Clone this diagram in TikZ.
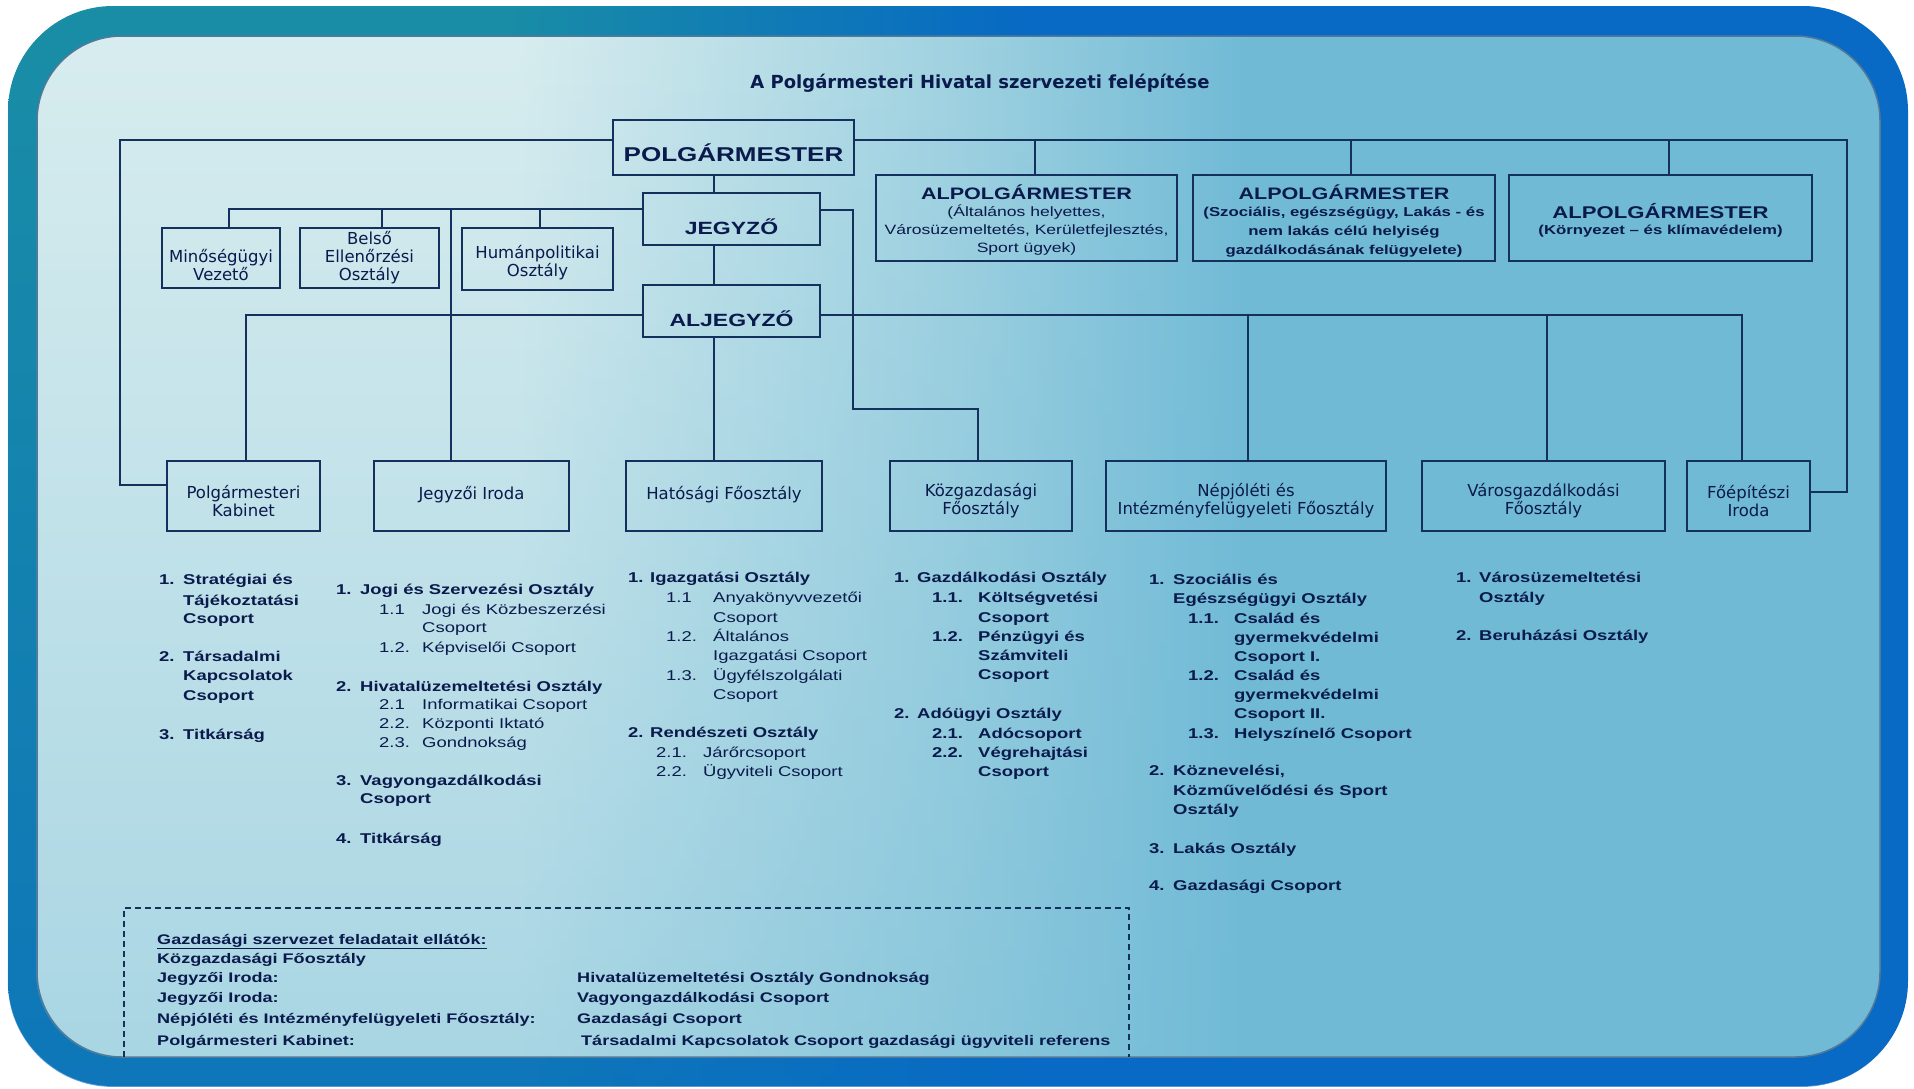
\documentclass[tikz,border=0pt]{standalone}
\usepackage{fontspec}
\setmainfont{Liberation Sans}
\newfontfamily\ar[FakeStretch=1.3]{Liberation Sans}
\newfontfamily\dv{DejaVu Sans}
\usetikzlibrary{fadings}
\definecolor{navy}{RGB}{20,48,92}
\definecolor{ink}{RGB}{10,26,76}
\definecolor{bgpale}{RGB}{216,237,239}
\definecolor{bgmid}{RGB}{160,210,225}
\definecolor{bgsky}{RGB}{112,186,214}
\definecolor{frteal}{RGB}{26,142,166}
\definecolor{frblue}{RGB}{8,106,196}
\pgfdeclarehorizontalshading{bgsh}{100bp}{color(0bp)=(bgpale); color(25bp)=(bgpale); color(38bp)=(bgpale); color(50bp)=(bgmid); color(58bp)=(bgsky); color(100bp)=(bgsky)}
\pgfdeclarehorizontalshading{frsh}{100bp}{color(0bp)=(frteal); color(25bp)=(frteal); color(38bp)=(frteal); color(52bp)=(frblue); color(100bp)=(frblue)}
\tikzset{
 conn/.style={draw=navy, line width=2.4pt},
 box/.style={draw=navy, line width=2.6pt, inner sep=0pt, align=center, text=ink},
 sbox/.style={draw=navy, line width=2.6pt, inner sep=0pt},
 btxt/.style={inner sep=0pt, align=center, text=ink, font=\dv\fontsize{16.5}{18}\selectfont},
 lst/.style={anchor=base west, inner sep=0pt, text=ink, font=\ar\bfseries\fontsize{14.2}{17}\selectfont},
 lsr/.style={font=\ar\mdseries\fontsize{14.2}{17}\selectfont},
 gz/.style={anchor=base west, inner sep=0pt, text=ink, font=\ar\bfseries\fontsize{13.9}{17}\selectfont},
 alpt/.style={inner sep=0pt, text=ink, font=\ar\bfseries\fontsize{16.6}{18}\selectfont},
 alps/.style={inner sep=0pt, text=ink, align=center, font=\ar\bfseries\fontsize{12.9}{19}\selectfont},
}
\newcommand\en[7][]{\node[lst,#1] (#2) at (#3,#4) {\makebox[#5pt][l]{#6}#7};}
\begin{document}
\begin{tikzpicture}[x=1pt,y=-1pt]
\useasboundingbox (0,0) rectangle (1914,1088);
\fill[white] (0,0) rectangle (1914,1088);
\shade[shading=frsh, rounded corners=105pt] (8,6) rectangle (1908,1086);
\fill[frblue, path fading=north, fill opacity=0.65, rounded corners=105pt] (8,6) rectangle (1908,1086);
\shade[shading=bgsh, rounded corners=85pt] (37,36) rectangle (1880,1057);
\fill[bgsky, path fading=north, fill opacity=0.45, rounded corners=85pt] (37,36) rectangle (1880,1057);
\draw[line width=1.5pt, draw=navy!55!bgmid, rounded corners=85pt] (37,36) rectangle (1880,1057);

% title
\node[text=ink, font=\dv\bfseries\fontsize{18}{20}\selectfont] (title) at (980,83) {A Polgármesteri Hivatal szervezeti felépítése};

% main boxes
\node[box, font=\ar\bfseries\fontsize{20}{22}\selectfont, minimum width=241pt, minimum height=55pt, text height=27pt, text depth=0pt] (polg) at (733.5,147.5) {POLGÁRMESTER};
\node[box, font=\ar\bfseries\fontsize{17.7}{20}\selectfont, minimum width=177pt, minimum height=52pt, text height=30pt, text depth=0pt] (jegyzo) at (731.5,219) {JEGYZŐ};
\node[box, font=\ar\bfseries\fontsize{17.7}{20}\selectfont, minimum width=177pt, minimum height=52pt, text height=30pt, text depth=0pt] (aljegyzo) at (731.5,311) {ALJEGYZŐ};

\node[sbox, minimum width=301pt, minimum height=86pt] (alp1) at (1026.5,218) {};
\node[sbox, minimum width=302pt, minimum height=86pt] (alp2) at (1344,218) {};
\node[sbox, minimum width=303pt, minimum height=86pt] (alp3) at (1660.5,218) {};
\node[alpt] (alp1t) at (1026.5,192) {ALPOLGÁRMESTER};
\node[alps, font=\ar\mdseries\fontsize{13.5}{18}\selectfont] (alp1s) at (1026.5,230) {(Általános helyettes,\\Városüzemeltetés, Kerületfejlesztés,\\Sport ügyek)};
\node[alpt] (alp2t) at (1344,192) {ALPOLGÁRMESTER};
\node[alps] (alp2s) at (1344,232) {(Szociális, egészségügy, Lakás - és\\nem lakás célú helyiség\\gazdálkodásának felügyelete)};
\node[alpt, font=\ar\bfseries\fontsize{17}{18}\selectfont] (alp3t) at (1660.5,211) {ALPOLGÁRMESTER};
\node[alps] (alp3s) at (1660.5,231) {(Környezet – és klímavédelem)};

\node[sbox, minimum width=118pt, minimum height=60pt] (minoseg) at (221,258) {};
\node[sbox, minimum width=139pt, minimum height=60pt] (belso) at (369.5,258) {};
\node[sbox, minimum width=151pt, minimum height=62pt] (human) at (537.5,259) {};
\node[btxt] (minosegt) at (221,265) {Minőségügyi\\Vezető};
\node[btxt] (belsot) at (369.5,258) {Belső\\Ellenőrzési\\Osztály};
\node[btxt] (humant) at (537.5,263) {Humánpolitikai\\Osztály};

\node[sbox, minimum width=153pt, minimum height=70pt] (pk) at (243.5,496) {};
\node[sbox, minimum width=195pt, minimum height=70pt] (ji) at (471.5,496) {};
\node[sbox, minimum width=196pt, minimum height=70pt] (hat) at (724,496) {};
\node[sbox, minimum width=182pt, minimum height=70pt] (kg) at (981,496) {};
\node[sbox, minimum width=280pt, minimum height=70pt] (nep) at (1246,496) {};
\node[sbox, minimum width=243pt, minimum height=70pt] (vg) at (1543.5,496) {};
\node[sbox, minimum width=123pt, minimum height=70pt] (fe) at (1748.5,496) {};
\node[btxt] (pkt) at (243.5,501) {Polgármesteri\\Kabinet};
\node[btxt] (jit) at (471.5,495) {Jegyzői Iroda};
\node[btxt] (hatt) at (724,495) {Hatósági Főosztály};
\node[btxt] (kgt) at (981,501) {Közgazdasági\\Főosztály};
\node[btxt] (nept) at (1246,501) {Népjóléti és\\Intézményfelügyeleti Főosztály};
\node[btxt] (vgt) at (1543.5,501) {Városgazdálkodási\\Főosztály};
\node[btxt] (fet) at (1748.5,501) {Főépítészi\\Iroda};

% connectors
\coordinate (yT) at (0,140);
\coordinate (LL) at (120,485);
\coordinate (RR) at (1847,492);
\draw[conn] (polg.west |- yT) -| (LL) -- (pk.west |- LL);
\draw[conn] (polg.east |- yT) -| (RR) -- (fe.east |- RR);
\coordinate (a1) at (1035,140);
\coordinate (a2) at (1351,140);
\coordinate (a3) at (1669,140);
\draw[conn] (a1) -- (a1 |- alp1.north);
\draw[conn] (a2) -- (a2 |- alp2.north);
\draw[conn] (a3) -- (a3 |- alp3.north);

\coordinate (sp) at (714,0);
\draw[conn] (polg.south -| sp) -- (jegyzo.north -| sp);
\draw[conn] (jegyzo.south -| sp) -- (aljegyzo.north -| sp);
\draw[conn] (aljegyzo.south -| sp) -- (hat.north -| sp);

\coordinate (jb) at (229,209);
\coordinate (jb2) at (382,209);
\coordinate (jb3) at (540,209);
\coordinate (jb4) at (451,209);
\draw[conn] (jegyzo.west |- jb) -- (jb) -- (jb |- minoseg.north);
\draw[conn] (jb2) -- (jb2 |- belso.north);
\draw[conn] (jb3) -- (jb3 |- human.north);
\draw[conn] (jb4) -- (jb4 |- ji.north);

\coordinate (jr1) at (853,210);
\coordinate (jr2) at (978,409);
\draw[conn] (jegyzo.east |- jr1) -- (jr1) |- (jr2) -- (jr2 |- kg.north);

\coordinate (ab) at (246,315);
\coordinate (ae) at (1742,315);
\coordinate (ab2) at (1248,315);
\coordinate (ab3) at (1547,315);
\draw[conn] (aljegyzo.west |- ab) -- (ab) -- (ab |- pk.north);
\draw[conn] (aljegyzo.east |- ae) -- (ae) -- (ae |- fe.north);
\draw[conn] (ab2) -- (ab2 |- nep.north);
\draw[conn] (ab3) -- (ab3 |- vg.north);

% lists
\en{c1a}{159}{584}{24}{1.}{Stratégiai és}
\en{c1b}{183}{605}{0}{}{Tájékoztatási}
\en{c1c}{183}{623}{0}{}{Csoport}
\en{c1d}{159}{661}{24}{2.}{Társadalmi}
\en{c1e}{183}{680}{0}{}{Kapcsolatok}
\en{c1f}{183}{700}{0}{}{Csoport}
\en{c1g}{159}{739}{24}{3.}{Titkárság}

\en{c2a}{336}{594}{24}{1.}{Jogi és Szervezési Osztály}
\en[lsr]{c2b}{379}{614}{43}{1.1}{Jogi és Közbeszerzési}
\en[lsr]{c2c}{422}{632}{0}{}{Csoport}
\en[lsr]{c2d}{379}{652}{43}{1.2.}{Képviselői Csoport}
\en{c2e}{336}{691}{24}{2.}{Hivatalüzemeltetési Osztály}
\en[lsr]{c2f}{379}{709}{43}{2.1}{Informatikai Csoport}
\en[lsr]{c2g}{379}{728}{43}{2.2.}{Központi Iktató}
\en[lsr]{c2h}{379}{747}{43}{2.3.}{Gondnokság}
\en{c2i}{336}{785}{24}{3.}{Vagyongazdálkodási}
\en{c2j}{360}{803}{0}{}{Csoport}
\en{c2k}{336}{843}{24}{4.}{Titkárság}

\en{c3a}{628}{582}{22}{1.}{Igazgatási Osztály}
\en[lsr]{c3b}{666}{602}{47}{1.1}{Anyakönyvvezetői}
\en[lsr]{c3c}{713}{622}{0}{}{Csoport}
\en[lsr]{c3d}{666}{641}{47}{1.2.}{Általános}
\en[lsr]{c3e}{713}{660}{0}{}{Igazgatási Csoport}
\en[lsr]{c3f}{666}{680}{47}{1.3.}{Ügyfélszolgálati}
\en[lsr]{c3g}{713}{699}{0}{}{Csoport}
\en{c3h}{628}{737}{22}{2.}{Rendészeti Osztály}
\en[lsr]{c3i}{656}{757}{47}{2.1.}{Járőrcsoport}
\en[lsr]{c3j}{656}{776}{47}{2.2.}{Ügyviteli Csoport}

\en{c4a}{894}{582}{23}{1.}{Gazdálkodási Osztály}
\en{c4b}{932}{602}{46}{1.1.}{Költségvetési}
\en{c4c}{978}{622}{0}{}{Csoport}
\en{c4d}{932}{641}{46}{1.2.}{Pénzügyi és}
\en{c4e}{978}{660}{0}{}{Számviteli}
\en{c4f}{978}{679}{0}{}{Csoport}
\en{c4g}{894}{718}{23}{2.}{Adóügyi Osztály}
\en{c4h}{932}{738}{46}{2.1.}{Adócsoport}
\en{c4i}{932}{757}{46}{2.2.}{Végrehajtási}
\en{c4j}{978}{776}{0}{}{Csoport}

\en{c5a}{1149}{584}{24}{1.}{Szociális és}
\en{c5b}{1173}{603}{0}{}{Egészségügyi Osztály}
\en{c5c}{1188}{623}{46}{1.1.}{Család és}
\en{c5d}{1234}{642}{0}{}{gyermekvédelmi}
\en{c5e}{1234}{661}{0}{}{Csoport I.}
\en{c5f}{1188}{680}{46}{1.2.}{Család és}
\en{c5g}{1234}{699}{0}{}{gyermekvédelmi}
\en{c5h}{1234}{718}{0}{}{Csoport II.}
\en{c5i}{1188}{738}{46}{1.3.}{Helyszínelő Csoport}
\en{c5j}{1149}{775}{24}{2.}{Köznevelési,}
\en{c5k}{1173}{795}{0}{}{Közművelődési és Sport}
\en{c5l}{1173}{814}{0}{}{Osztály}
\en{c5m}{1149}{853}{24}{3.}{Lakás Osztály}
\en{c5n}{1149}{890}{24}{4.}{Gazdasági Csoport}

\en{c6a}{1456}{582}{23}{1.}{Városüzemeltetési}
\en{c6b}{1479}{602}{0}{}{Osztály}
\en{c6c}{1456}{640}{23}{2.}{Beruházási Osztály}

% dashed box
\draw[navy, line width=2pt, dash pattern=on 6pt off 4pt] (124,1057) -- (124,908) -- (1129,908) -- (1129,1057);
\node[gz] (g0) at (157,944) {\underline{Gazdasági szervezet feladatait ellátók:}};
\node[gz] (g1) at (157,963) {Közgazdasági Főosztály};
\node[gz] (g2) at (157,982) {Jegyzői Iroda:};
\node[gz] (g2r) at (577,982) {Hivatalüzemeltetési Osztály Gondnokság};
\node[gz] (g3) at (157,1002) {Jegyzői Iroda:};
\node[gz] (g3r) at (577,1002) {Vagyongazdálkodási Csoport};
\node[gz] (g4) at (157,1023) {Népjóléti és Intézményfelügyeleti Főosztály:};
\node[gz] (g4r) at (577,1023) {Gazdasági Csoport};
\node[gz] (g5) at (157,1045) {Polgármesteri Kabinet:};
\node[gz] (g5r) at (581,1045) {Társadalmi Kapcsolatok Csoport gazdasági ügyviteli referens};
\end{tikzpicture}
\end{document}
